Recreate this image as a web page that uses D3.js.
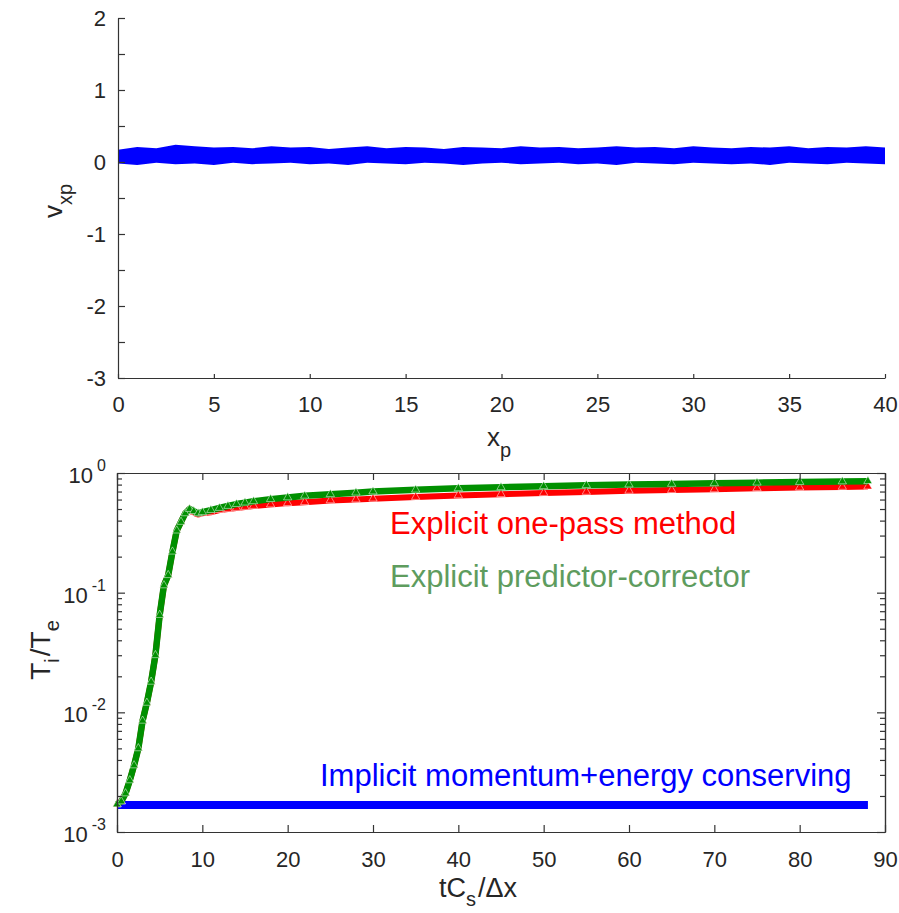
<!DOCTYPE html>
<html>
<head>
<meta charset="utf-8">
<script src="https://cdn.jsdelivr.net/npm/d3@7"></script>
<style>
body { margin: 0; background: #fff; }
svg { font-family: "Liberation Sans", Arial, sans-serif; }
.axis path, .axis line { stroke: #333; stroke-width: 1.2; }
.axis text { fill: #262626; font-size: 22px; }
</style>
</head>
<body>
<svg id="chart" width="899" height="913"></svg>
<script>
// ---- top panel: particle velocity band (edges)
const particleX = [0,1,2,3,4,5,6,7,8,9,10,11,12,13,14,15,16,17,18,19,20,
    21,22,23,24,25,26,27,28,29,30,31,32,33,34,35,36,37,38,39,40];
const velUpper = [0.17,0.21,0.19,0.24,0.22,0.20,0.21,0.19,0.22,0.20,0.21,0.18,0.20,0.22,0.19,0.21,0.20,0.18,0.21,0.20,0.19,
    0.22,0.20,0.21,0.19,0.20,0.22,0.20,0.21,0.19,0.22,0.20,0.19,0.21,0.20,0.22,0.19,0.21,0.20,0.22,0.20];
const velLower = [-0.02,-0.04,-0.01,-0.03,-0.02,-0.04,-0.01,-0.03,-0.02,-0.01,-0.03,-0.02,-0.04,-0.01,-0.02,-0.03,-0.01,-0.02,-0.04,-0.02,-0.01,
    -0.03,-0.02,-0.01,-0.03,-0.02,-0.04,-0.01,-0.02,-0.03,-0.01,-0.02,-0.03,-0.02,-0.04,-0.01,-0.02,-0.03,-0.01,-0.02,-0.03];
const topXTicks = [0,5,10,15,20,25,30,35,40];
const topYTicks = [-3,-2.5,-2,-1.5,-1,-0.5,0,0.5,1,1.5,2];

// ---- bottom panel: Ti/Te vs time
const timeSteps = [0,0.5,1,1.5,2,2.5,3,3.5,4,4.5,5,5.5,6,6.5,7,7.5,8,8.5,9,9.5,10,
    11,12,13,14,15,16,18,20,22,25,28,30,35,40,45,50,55,60,65,70,75,80,85,88];
const predCorr = [0.0017,0.0018,0.0021,0.0027,0.0036,0.005,0.0085,0.012,0.018,0.03,0.065,0.115,0.14,0.22,0.33,0.39,0.46,0.5,0.48,0.46,0.47,
    0.49,0.51,0.53,0.55,0.565,0.58,0.605,0.625,0.645,0.665,0.685,0.7,0.725,0.745,0.76,0.775,0.79,0.8,0.81,0.82,0.83,0.84,0.85,0.855];
const onePass = [0.0017,0.0018,0.0021,0.0027,0.0036,0.005,0.0085,0.012,0.018,0.03,0.065,0.115,0.14,0.22,0.33,0.39,0.46,0.5,0.47,0.45,0.46,
    0.47,0.49,0.5,0.51,0.52,0.53,0.545,0.56,0.57,0.59,0.6,0.61,0.63,0.65,0.665,0.68,0.695,0.71,0.72,0.73,0.745,0.755,0.765,0.77];
const implicitT = [0,10,20,30,40,50,60,70,80,88];
const implicitVal = [0.00168,0.00168,0.00168,0.00168,0.00168,0.00168,0.00168,0.00168,0.00168,0.00168];
const botXTicks = [0,10,20,30,40,50,60,70,80,90];
const botYTicks = [1e-3,1e-2,1e-1,1];
const botYExp = ["-3","-2","-1","0"];

const svg = d3.select('#chart');

// ===== top panel
const xTop = d3.scaleLinear().domain([0, 40]).range([118, 885]);
const yTop = d3.scaleLinear().domain([-3, 2]).range([378, 18]);

svg.append('path')
    .datum(particleX.map((x, i) => [x, velUpper[i], velLower[i]]))
    .attr('fill', '#0000ff')
    .attr('d', d3.area().x(d => xTop(d[0])).y0(d => yTop(d[2])).y1(d => yTop(d[1])));

svg.append('g').attr('class', 'axis')
    .attr('transform', 'translate(0,378)')
    .call(d3.axisBottom(xTop).tickValues(topXTicks).tickSize(-4).tickSizeOuter(0).tickPadding(18));

svg.append('g').attr('class', 'axis')
    .attr('transform', 'translate(118,0)')
    .call(d3.axisLeft(yTop).tickValues(topYTicks).tickSize(-7).tickSizeOuter(0).tickPadding(12)
        .tickFormat(d => Number.isInteger(d) ? d : ''));

// x_p
svg.append('text').attr('x', 487).attr('y', 446).attr('font-size', 26).attr('fill', '#262626')
    .text('x')
    .append('tspan').attr('dy', 11).attr('font-size', 20).text('p');

// v_xp
svg.append('text').attr('transform', 'translate(62,218) rotate(-90)')
    .attr('font-size', 26).attr('fill', '#262626')
    .text('v')
    .append('tspan').attr('dy', 10).attr('font-size', 20).text('xp');

// ===== bottom panel
const xBot = d3.scaleLinear().domain([0, 90]).range([117, 885]);
const yBot = d3.scaleLog().domain([1e-3, 1]).range([832, 473]);
const minorY = yBot.ticks().filter(v => !botYTicks.includes(v));

const line = d3.line().x(d => xBot(d[0])).y(d => yBot(d[1]));
const tri = d3.symbol().type(d3.symbolTriangle).size(30);

function drawSeries(ts, vals, color, width, markers) {
    const pts = ts.map((t, i) => [t, vals[i]]);
    svg.append('path').datum(pts)
        .attr('fill', 'none').attr('stroke', color).attr('stroke-width', width)
        .attr('stroke-linejoin', 'round')
        .attr('d', line);
    if (!markers) return;
    svg.append('g').selectAll('path').data(pts).join('path')
        .attr('transform', d => `translate(${xBot(d[0])},${yBot(d[1])})`)
        .attr('d', tri)
        .attr('fill', color).attr('stroke', '#fff').attr('stroke-width', 0.5);
}

drawSeries(implicitT, implicitVal, '#0000ff', 8, false);
drawSeries(timeSteps, onePass, '#ff0000', 6, true);
drawSeries(timeSteps, predCorr, '#009000', 6.5, true);

// box and ticks
svg.append('g').attr('class', 'axis')
    .attr('transform', 'translate(0,832)')
    .call(d3.axisBottom(xBot).tickValues(botXTicks).tickSize(-7).tickSizeOuter(0).tickPadding(19));
svg.append('g').attr('class', 'axis')
    .attr('transform', 'translate(0,473)')
    .call(d3.axisTop(xBot).tickValues(botXTicks).tickSize(-7).tickSizeOuter(0).tickFormat(''));
svg.append('g').attr('class', 'axis')
    .attr('transform', 'translate(117,0)')
    .call(d3.axisLeft(yBot).tickValues(botYTicks).tickSize(-8).tickSizeOuter(0).tickFormat(''));
svg.append('g').attr('class', 'axis')
    .attr('transform', 'translate(885,0)')
    .call(d3.axisRight(yBot).tickValues(botYTicks).tickSize(-8).tickSizeOuter(0).tickFormat(''));
svg.append('g').attr('class', 'axis')
    .attr('transform', 'translate(117,0)')
    .call(d3.axisLeft(yBot).tickValues(minorY).tickSize(-5).tickSizeOuter(0).tickFormat(''));
svg.append('g').attr('class', 'axis')
    .attr('transform', 'translate(885,0)')
    .call(d3.axisRight(yBot).tickValues(minorY).tickSize(-5).tickSizeOuter(0).tickFormat(''));

// 10^n labels
const yLabels = svg.append('g').selectAll('text').data(botYTicks).join('text')
    .attr('x', 106).attr('y', d => yBot(d) + 10)
    .attr('text-anchor', 'end').attr('font-size', 22).attr('fill', '#262626');
yLabels.append('tspan').text('10');
yLabels.append('tspan').attr('dx', 4).attr('dy', -12).attr('font-size', 16)
    .text((d, i) => botYExp[i]);

// T_i/T_e
const tLab = svg.append('text').attr('transform', 'translate(50,650) rotate(-90)')
    .attr('text-anchor', 'middle').attr('font-size', 28).attr('fill', '#262626');
tLab.append('tspan').text('T');
tLab.append('tspan').attr('dy', 9).attr('font-size', 20).text('i');
tLab.append('tspan').attr('dy', -9).attr('dx', 2).text('/T');
tLab.append('tspan').attr('dy', 9).attr('font-size', 20).text('e');

// tC_s/Δx
const xLab = svg.append('text').attr('x', 478).attr('y', 897)
    .attr('text-anchor', 'middle').attr('font-size', 27).attr('fill', '#262626');
xLab.append('tspan').text('tC');
xLab.append('tspan').attr('dy', 9).attr('font-size', 20).text('s');
xLab.append('tspan').attr('dy', -9).attr('dx', 2).text('/\u0394x');

// legend text
svg.append('text').attr('x', 390).attr('y', 534).attr('font-size', 31).attr('fill', '#ff0000')
    .text('Explicit one-pass method');
svg.append('text').attr('x', 390).attr('y', 587).attr('font-size', 31).attr('fill', '#5e9c5e')
    .text('Explicit predictor-corrector');
svg.append('text').attr('x', 320).attr('y', 786).attr('font-size', 31).attr('fill', '#0000ff')
    .text('Implicit momentum+energy conserving');
</script>
</body>
</html>
